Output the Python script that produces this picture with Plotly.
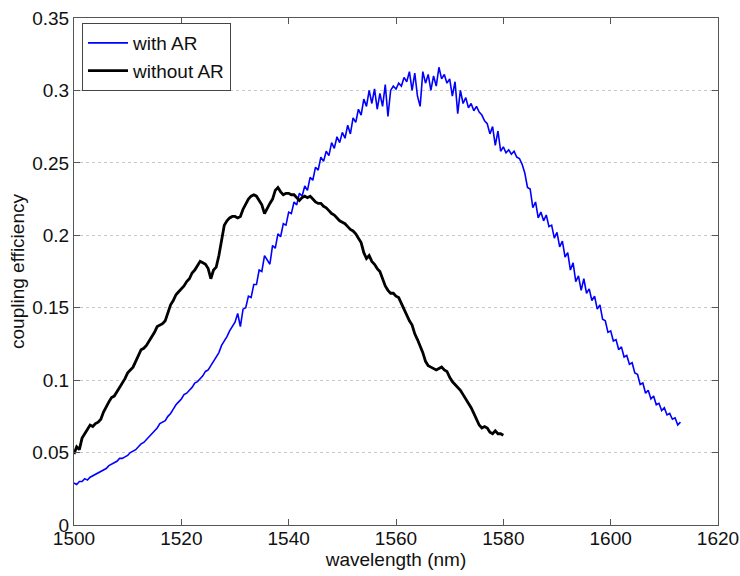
import plotly.graph_objects as go

# ---- data ----
blue_wl = [
    1500.0, 1500.5, 1501.0, 1501.5, 1502.0, 1502.5, 1503.0, 1503.5, 1504.0, 1504.5,
    1505.0, 1505.5, 1506.0, 1506.5, 1507.0, 1507.5, 1508.0, 1508.5, 1509.0, 1509.5,
    1510.0, 1510.5, 1511.0, 1511.5, 1512.0, 1512.5, 1513.0, 1513.5, 1514.0, 1514.5,
    1515.0, 1515.5, 1516.0, 1516.5, 1517.0, 1517.5, 1518.0, 1518.5, 1519.0, 1519.5,
    1520.0, 1520.5, 1521.0, 1521.5, 1522.0, 1522.5, 1523.0, 1523.5, 1524.0, 1524.5,
    1525.0, 1525.5, 1526.0, 1526.5, 1527.0, 1527.5, 1528.0, 1528.5, 1529.0, 1529.5,
    1530.0, 1530.5, 1531.0, 1531.5, 1532.0, 1532.5, 1533.0, 1533.5, 1534.0, 1534.5,
    1535.0, 1535.5, 1536.0, 1536.5, 1537.0, 1537.5, 1538.0, 1538.5, 1539.0, 1539.5,
    1540.0, 1540.5, 1541.0, 1541.5, 1542.0, 1542.5, 1543.0, 1543.5, 1544.0, 1544.5,
    1545.0, 1545.5, 1546.0, 1546.5, 1547.0, 1547.5, 1548.0, 1548.5, 1549.0, 1549.5,
    1550.0, 1550.5, 1551.0, 1551.5, 1552.0, 1552.5, 1553.0, 1553.5, 1554.0, 1554.5,
    1555.0, 1555.5, 1556.0, 1556.5, 1557.0, 1557.5, 1558.0, 1558.5, 1559.0, 1559.5,
    1560.0, 1560.5, 1561.0, 1561.5, 1562.0, 1562.5, 1563.0, 1563.5, 1564.0, 1564.5,
    1565.0, 1565.5, 1566.0, 1566.5, 1567.0, 1567.5, 1568.0, 1568.5, 1569.0, 1569.5,
    1570.0, 1570.5, 1571.0, 1571.5, 1572.0, 1572.5, 1573.0, 1573.5, 1574.0, 1574.5,
    1575.0, 1575.5, 1576.0, 1576.5, 1577.0, 1577.5, 1578.0, 1578.5, 1579.0, 1579.5,
    1580.0, 1580.5, 1581.0, 1581.5, 1582.0, 1582.5, 1583.0, 1583.5, 1584.0, 1584.5,
    1585.0, 1585.5, 1586.0, 1586.5, 1587.0, 1587.5, 1588.0, 1588.5, 1589.0, 1589.5,
    1590.0, 1590.5, 1591.0, 1591.5, 1592.0, 1592.5, 1593.0, 1593.5, 1594.0, 1594.5,
    1595.0, 1595.5, 1596.0, 1596.5, 1597.0, 1597.5, 1598.0, 1598.5, 1599.0, 1599.5,
    1600.0, 1600.5, 1601.0, 1601.5, 1602.0, 1602.5, 1603.0, 1603.5, 1604.0, 1604.5,
    1605.0, 1605.5, 1606.0, 1606.5, 1607.0, 1607.5, 1608.0, 1608.5, 1609.0, 1609.5,
    1610.0, 1610.5, 1611.0, 1611.5, 1612.0, 1612.5, 1613.0,
]
blue_eff = [
    0.029, 0.028, 0.030, 0.030, 0.032, 0.031, 0.033, 0.034, 0.035, 0.036,
    0.037, 0.038, 0.039, 0.041, 0.042, 0.043, 0.044, 0.046, 0.046, 0.047,
    0.048, 0.050, 0.051, 0.052, 0.054, 0.056, 0.057, 0.059, 0.061, 0.063,
    0.065, 0.067, 0.070, 0.071, 0.072, 0.075, 0.077, 0.080, 0.083, 0.085,
    0.087, 0.090, 0.091, 0.093, 0.095, 0.098, 0.099, 0.101, 0.103, 0.106,
    0.107, 0.110, 0.113, 0.116, 0.119, 0.124, 0.127, 0.130, 0.134, 0.137,
    0.140, 0.146, 0.137, 0.149, 0.150, 0.158, 0.157, 0.166, 0.166, 0.176,
    0.175, 0.186, 0.183, 0.180, 0.193, 0.191, 0.201, 0.199, 0.208, 0.207,
    0.216, 0.215, 0.223, 0.221, 0.229, 0.227, 0.234, 0.231, 0.240, 0.238,
    0.247, 0.245, 0.254, 0.251, 0.258, 0.255, 0.264, 0.260, 0.268, 0.264,
    0.271, 0.267, 0.276, 0.270, 0.281, 0.278, 0.287, 0.283, 0.294, 0.289,
    0.300, 0.291, 0.301, 0.287, 0.298, 0.289, 0.304, 0.282, 0.300, 0.303,
    0.301, 0.305, 0.303, 0.309, 0.306, 0.313, 0.300, 0.312, 0.296, 0.289,
    0.313, 0.305, 0.311, 0.300, 0.310, 0.303, 0.316, 0.308, 0.311, 0.305,
    0.308, 0.296, 0.306, 0.284, 0.300, 0.291, 0.295, 0.288, 0.291, 0.286,
    0.289, 0.285, 0.283, 0.279, 0.277, 0.270, 0.275, 0.262, 0.272, 0.258,
    0.261, 0.257, 0.259, 0.256, 0.258, 0.254, 0.253, 0.249, 0.243, 0.233,
    0.232, 0.219, 0.223, 0.212, 0.216, 0.210, 0.214, 0.206, 0.207, 0.198,
    0.202, 0.192, 0.196, 0.185, 0.188, 0.176, 0.181, 0.168, 0.172, 0.162,
    0.170, 0.160, 0.163, 0.155, 0.158, 0.149, 0.152, 0.142, 0.141, 0.133,
    0.134, 0.127, 0.128, 0.121, 0.123, 0.116, 0.117, 0.111, 0.112, 0.105,
    0.104, 0.097, 0.098, 0.091, 0.093, 0.087, 0.089, 0.083, 0.084, 0.079,
    0.081, 0.076, 0.077, 0.073, 0.074, 0.069, 0.071,
]

black_wl = [
    1500.0, 1500.5, 1501.0, 1501.5, 1502.0, 1502.5, 1503.0, 1503.5, 1504.0, 1504.5,
    1505.0, 1505.5, 1506.0, 1506.5, 1507.0, 1507.5, 1508.0, 1508.5, 1509.0, 1509.5,
    1510.0, 1510.5, 1511.0, 1511.5, 1512.0, 1512.5, 1513.0, 1513.5, 1514.0, 1514.5,
    1515.0, 1515.5, 1516.0, 1516.5, 1517.0, 1517.5, 1518.0, 1518.5, 1519.0, 1519.5,
    1520.0, 1520.5, 1521.0, 1521.5, 1522.0, 1522.5, 1523.0, 1523.5, 1524.0, 1524.5,
    1525.0, 1525.5, 1526.0, 1526.5, 1527.0, 1527.5, 1528.0, 1528.5, 1529.0, 1529.5,
    1530.0, 1530.5, 1531.0, 1531.5, 1532.0, 1532.5, 1533.0, 1533.5, 1534.0, 1534.5,
    1535.0, 1535.5, 1536.0, 1536.5, 1537.0, 1537.5, 1538.0, 1538.5, 1539.0, 1539.5,
    1540.0, 1540.5, 1541.0, 1541.5, 1542.0, 1542.5, 1543.0, 1543.5, 1544.0, 1544.5,
    1545.0, 1545.5, 1546.0, 1546.5, 1547.0, 1547.5, 1548.0, 1548.5, 1549.0, 1549.5,
    1550.0, 1550.5, 1551.0, 1551.5, 1552.0, 1552.5, 1553.0, 1553.5, 1554.0, 1554.5,
    1555.0, 1555.5, 1556.0, 1556.5, 1557.0, 1557.5, 1558.0, 1558.5, 1559.0, 1559.5,
    1560.0, 1560.5, 1561.0, 1561.5, 1562.0, 1562.5, 1563.0, 1563.5, 1564.0, 1564.5,
    1565.0, 1565.5, 1566.0, 1566.5, 1567.0, 1567.5, 1568.0, 1568.5, 1569.0, 1569.5,
    1570.0, 1570.5, 1571.0, 1571.5, 1572.0, 1572.5, 1573.0, 1573.5, 1574.0, 1574.5,
    1575.0, 1575.5, 1576.0, 1576.5, 1577.0, 1577.5, 1578.0, 1578.5, 1579.0, 1579.5,
    1580.0,
]
black_eff = [
    0.049, 0.054, 0.052, 0.060, 0.063, 0.066, 0.069, 0.068, 0.070, 0.071,
    0.073, 0.078, 0.082, 0.085, 0.088, 0.089, 0.092, 0.095, 0.098, 0.101,
    0.105, 0.107, 0.109, 0.113, 0.117, 0.121, 0.122, 0.124, 0.127, 0.130,
    0.133, 0.137, 0.138, 0.139, 0.141, 0.147, 0.152, 0.155, 0.159, 0.161,
    0.163, 0.165, 0.168, 0.170, 0.174, 0.176, 0.179, 0.182, 0.181, 0.180,
    0.177, 0.170, 0.176, 0.178, 0.186, 0.198, 0.207, 0.210, 0.212, 0.213,
    0.213, 0.212, 0.213, 0.218, 0.222, 0.225, 0.227, 0.228, 0.227, 0.224,
    0.221, 0.215, 0.219, 0.222, 0.225, 0.231, 0.233, 0.230, 0.228, 0.229,
    0.229, 0.228, 0.228, 0.226, 0.224, 0.226, 0.227, 0.226, 0.227, 0.225,
    0.223, 0.222, 0.222, 0.220, 0.219, 0.217, 0.215, 0.214, 0.212, 0.210,
    0.209, 0.208, 0.206, 0.204, 0.203, 0.201, 0.198, 0.195, 0.188, 0.184,
    0.186, 0.182, 0.180, 0.177, 0.175, 0.170, 0.165, 0.162, 0.160, 0.160,
    0.158, 0.157, 0.153, 0.148, 0.145, 0.141, 0.138, 0.132, 0.128, 0.124,
    0.119, 0.113, 0.110, 0.109, 0.108, 0.107, 0.108, 0.109, 0.107, 0.106,
    0.102, 0.099, 0.097, 0.095, 0.093, 0.090, 0.087, 0.084, 0.081, 0.077,
    0.073, 0.069, 0.067, 0.068, 0.067, 0.064, 0.063, 0.065, 0.063, 0.063,
    0.062,
]

x_ticks = [1500, 1520, 1540, 1560, 1580, 1600, 1620]
y_ticks = [0, 0.05, 0.1, 0.15, 0.2, 0.25, 0.3, 0.35]
y_labels = ["0", "0.05", "0.1", "0.15", "0.2", "0.25", "0.3", "0.35"]

FONT = "Liberation Sans, Arial, sans-serif"

fig = go.Figure()
fig.add_trace(go.Scatter(x=blue_wl, y=blue_eff, mode="lines", name="with AR",
                         line=dict(color="#0000ff", width=1.6)))
fig.add_trace(go.Scatter(x=black_wl, y=black_eff, mode="lines", name="without AR",
                         line=dict(color="#000000", width=2.8)))

axis_common = dict(
    showline=True, linecolor="#555555", linewidth=1, mirror="ticks",
    ticks="inside", ticklen=6, tickcolor="#555555", zeroline=False,
    automargin=False,
)

fig.update_layout(
    width=740, height=576,
    margin=dict(l=74, r=22, t=18, b=51),
    paper_bgcolor="white", plot_bgcolor="white",
    font=dict(family=FONT, size=19, color="#111111"),
    showlegend=True,
    legend=dict(
        x=0.0124, y=0.99, xanchor="left", yanchor="top",
        bgcolor="white", bordercolor="#444444", borderwidth=1,
        font=dict(family=FONT, size=19, color="#111111"),
        tracegroupgap=0, itemwidth=40,
    ),
    xaxis=dict(
        range=[1500, 1620], tickvals=x_ticks, showgrid=False,
        tickfont=dict(size=19), ticklabelstandoff=-4,
        title=dict(text="wavelength (nm)", standoff=1, font=dict(size=19)),
        **axis_common,
    ),
    yaxis=dict(
        range=[0, 0.35], tickvals=y_ticks, ticktext=y_labels,
        showgrid=True, gridcolor="#c8c8c8", griddash="dot", gridwidth=1,
        tickfont=dict(size=19),
        title=dict(text="coupling efficiency", standoff=2, font=dict(size=19)),
        **axis_common,
    ),
)

fig.write_html("out.html")
